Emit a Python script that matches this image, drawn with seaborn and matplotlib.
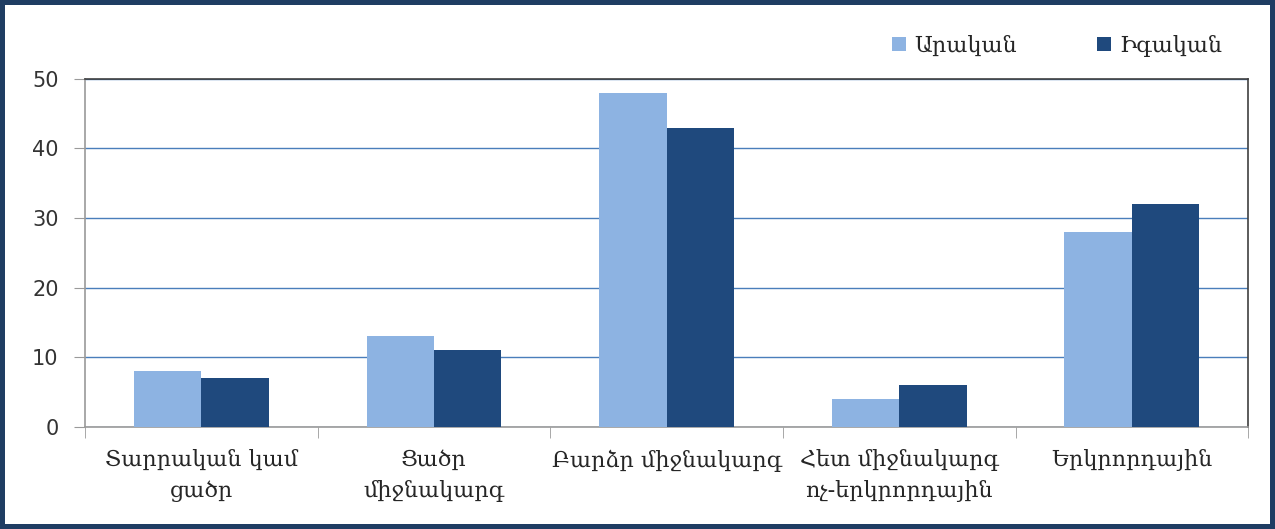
import pandas as pd
import seaborn as sns
import matplotlib.pyplot as plt

# Տվյալներ
categories = ['Տարրական կամ\nցածր', 'Ցածր\nմիջնակարգ', 'Բարձր միջնակարգ',
              'Հետ միջնակարգ\nոչ-երկրորդային', 'Երկրորդային']
male = [8, 13, 48, 4, 28]
female = [7, 11, 43, 6, 32]
series = ['Արական', 'Իգական']
colors = ['#8db3e2', '#1f497d']

df = pd.DataFrame({
    'category': categories * 2,
    'value': male + female,
    'sex': [series[0]] * len(categories) + [series[1]] * len(categories),
})

sns.set_style('white')
plt.rcParams['font.family'] = ['DejaVu Serif', 'DejaVu Sans']

fig = plt.figure(figsize=(12.75, 5.29), dpi=100, edgecolor='#1f3d63', linewidth=6)
ax = fig.add_axes([0.0667, 0.193, 0.9123, 0.658])

sns.barplot(data=df, x='category', y='value', hue='sex', palette=colors,
            width=0.58, gap=0, saturation=1, linewidth=0, ax=ax, zorder=3)

ax.set_ylim(0, 50)
ax.set_xlim(-0.5, 4.5)
ax.set_yticks([0, 10, 20, 30, 40, 50])
ax.yaxis.grid(True, color='#4a7ebb', linewidth=1, zorder=0)
ax.set_xlabel('')
ax.set_ylabel('')

for side in ['left', 'bottom']:
    ax.spines[side].set_color('#9a9a9a')
    ax.spines[side].set_linewidth(1.2)
for side in ['top', 'right']:
    ax.spines[side].set_visible(True)
    ax.spines[side].set_color('#404040')
    ax.spines[side].set_linewidth(1.2)

ax.tick_params(axis='y', length=8, color='#9a9a9a', labelsize=15, pad=11, left=True)
for lbl in ax.get_yticklabels():
    lbl.set_family('DejaVu Sans')
    lbl.set_color('#333333')
ax.tick_params(axis='x', which='major', length=0, labelsize=16, pad=16)
for lbl in ax.get_xticklabels():
    lbl.set_linespacing(1.55)
ax.set_xticks([-0.5, 0.5, 1.5, 2.5, 3.5, 4.5], minor=True)
ax.tick_params(axis='x', which='minor', length=8, color='#9a9a9a', bottom=True)

ax.legend(loc='center', bbox_to_anchor=(0.836, 1.095), ncol=2, frameon=False,
          fontsize=16, handlelength=0.6, handleheight=0.6, columnspacing=3.6,
          handletextpad=0.4)

plt.savefig('out.png', dpi=100, edgecolor=fig.get_edgecolor())
